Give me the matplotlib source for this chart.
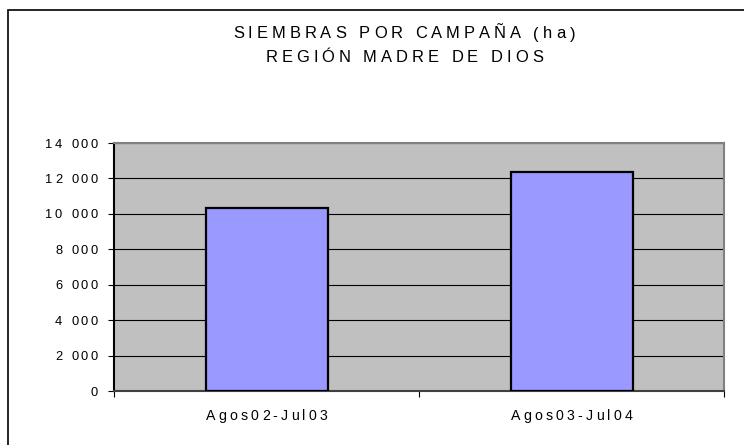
import matplotlib
matplotlib.use('Agg')
import matplotlib.pyplot as plt
from matplotlib.font_manager import FontProperties
from matplotlib.transforms import IdentityTransform
from matplotlib.patches import Rectangle

# data
campanas = ['Agos02-Jul03', 'Agos03-Jul04']
siembras = [10320, 12340]
y_ticks = [0, 2000, 4000, 6000, 8000, 10000, 12000, 14000]
title_lines = ['SIEMBRAS POR CAMPAÑA (ha)', 'REGIÓN MADRE DE DIOS']

W, H = 744, 445
fig = plt.figure(figsize=(W / 100, H / 100), dpi=100)
renderer = fig.canvas.get_renderer()


def spaced_text(x, y, s, size, gap, ha='center'):
    # matplotlib has no letter spacing, so place the characters one by one (pixel coords)
    prop = FontProperties(family='Liberation Sans', size=size)

    def w(t):
        return renderer.get_text_width_height_descent(t, prop, ismath=False)[0]

    adv = [w('a' + c + 'a') - w('aa') for c in s]
    total = sum(adv) + gap * (len(s) - 1)
    if ha == 'center':
        x0 = x - total / 2
    elif ha == 'right':
        x0 = x - total
    else:
        x0 = x
    for c, a in zip(s, adv):
        fig.text(x0, y, c, fontproperties=prop, transform=IdentityTransform(),
                 ha='left', va='baseline', color='black')
        x0 += a + gap


# outer chart border (only left and top edges fall inside the picture)
fig.add_artist(Rectangle((8, -20), 900, H - 10 + 20, transform=IdentityTransform(),
                         fill=False, edgecolor='black', linewidth=1.2))

# plot area: x 114..724, y 143..391 (pixels from top)
ax = fig.add_axes([114 / W, (H - 391) / H, 610 / W, 248 / H])
ax.set_facecolor('#C0C0C0')

xpos = list(range(len(campanas)))
ax.bar(xpos, siembras, width=0.40, color='#9999FF', edgecolor='black', linewidth=1.6, zorder=3)

ax.set_xlim(-0.5, len(campanas) - 0.5)
ax.set_ylim(0, 14000)
ax.set_yticks(y_ticks)
ax.set_xticks([i - 0.5 for i in range(len(campanas) + 1)])
ax.yaxis.grid(True, color='black', linewidth=0.8)
ax.set_axisbelow(True)
ax.tick_params(axis='both', direction='out', length=4.3, width=0.8, color='black',
               labelleft=False, labelbottom=False)

ax.spines['left'].set_color('black')
ax.spines['left'].set_linewidth(1.5)
ax.spines['bottom'].set_color('#404040')
ax.spines['bottom'].set_linewidth(1.5)
for side in ['top', 'right']:
    ax.spines[side].set_color('#808080')
    ax.spines[side].set_linewidth(1.5)

# tick labels with the wide letter spacing of the original
for v in y_ticks:
    ypix = ax.transData.transform((0, v))[1]
    spaced_text(98, ypix - 4.5, f'{v:,}'.replace(',', ' '), 9.3, 2.6, ha='right')

for i, lab in enumerate(campanas):
    xpix = ax.transData.transform((i, 0))[0]
    spaced_text(xpix, H - 420, lab, 10.2, 3.2)

# title
spaced_text(404, H - 38.5, title_lines[0], 11.9, 4.0)
spaced_text(404, H - 62.5, title_lines[1], 11.9, 4.0)

fig.savefig('out.png', dpi=100)
